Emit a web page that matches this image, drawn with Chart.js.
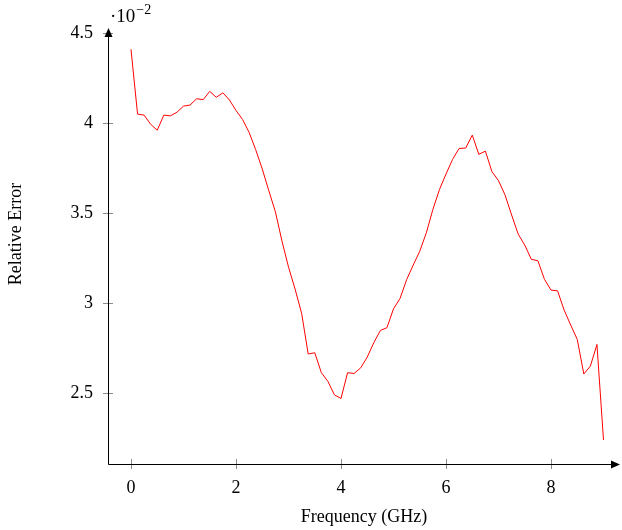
<!DOCTYPE html>
<html>
<head>
<meta charset="utf-8">
<script src="https://cdn.jsdelivr.net/npm/chart.js@4"></script>
<style>
  html, body { margin: 0; padding: 0; background: #fff; }
  canvas { display: block; }
</style>
</head>
<body>
<canvas id="chart" width="622" height="530"></canvas>
<script>
// frequency in GHz
const freq = [
  0, 0.125, 0.25, 0.375, 0.5, 0.625, 0.75, 0.875,
  1, 1.125, 1.25, 1.375, 1.5, 1.625, 1.75, 1.875,
  2, 2.125, 2.25, 2.375, 2.5, 2.625, 2.75, 2.875,
  3, 3.125, 3.25, 3.375, 3.5, 3.625, 3.75, 3.875,
  4, 4.125, 4.25, 4.375, 4.5, 4.625, 4.75, 4.875,
  5, 5.125, 5.25, 5.375, 5.5, 5.625, 5.75, 5.875,
  6, 6.125, 6.25, 6.375, 6.5, 6.625, 6.75, 6.875,
  7, 7.125, 7.25, 7.375, 7.5, 7.625, 7.75, 7.875,
  8, 8.125, 8.25, 8.375, 8.5, 8.625, 8.75, 8.875,
  9
];
// relative error, in units of 10^-2
const relErr = [
  4.41, 4.05, 4.044, 3.993, 3.96, 4.044, 4.04, 4.06,
  4.094, 4.10, 4.135, 4.13, 4.176, 4.143, 4.168, 4.128,
  4.07, 4.02, 3.948, 3.852, 3.745, 3.624, 3.507, 3.345,
  3.20, 3.078, 2.943, 2.717, 2.724, 2.614, 2.565, 2.49,
  2.47, 2.613, 2.609, 2.64, 2.70, 2.78, 2.848, 2.863,
  2.968, 3.026, 3.13, 3.211, 3.288, 3.39, 3.52, 3.63,
  3.717, 3.798, 3.859, 3.861, 3.933, 3.826, 3.844, 3.73,
  3.68, 3.60, 3.489, 3.383, 3.322, 3.243, 3.235, 3.132,
  3.072, 3.068, 2.961, 2.878, 2.798, 2.606, 2.65, 2.77,
  2.239
];
const xTicks = [0, 2, 4, 6, 8];
const xTickLabels = ['0', '2', '4', '6', '8'];
const yTicks = [2.5, 3, 3.5, 4, 4.5];
const yTickLabels = ['2.5', '3', '3.5', '4', '4.5'];

const serif = '"Liberation Serif", "DejaVu Serif", serif';
const labelFont = { family: serif, size: 18 };

// axis lines with arrows, gray tick marks, y title and the 10^-2 multiplier
const axesPlugin = {
  id: 'axes',
  afterDraw(chart) {
    const ctx = chart.ctx;
    const { left, top, right, bottom } = chart.chartArea;
    const x = chart.scales.x;
    const y = chart.scales.y;
    ctx.save();
    ctx.lineWidth = 1;
    ctx.strokeStyle = '#8c8c8c';
    yTicks.forEach(v => {
      const py = Math.round(y.getPixelForValue(v)) + 0.5;
      ctx.beginPath();
      ctx.moveTo(left - 5, py);
      ctx.lineTo(left + 5, py);
      ctx.stroke();
    });
    xTicks.forEach(v => {
      const px = Math.round(x.getPixelForValue(v)) + 0.5;
      ctx.beginPath();
      ctx.moveTo(px, bottom - 5);
      ctx.lineTo(px, bottom + 5);
      ctx.stroke();
    });

    ctx.strokeStyle = '#000';
    ctx.fillStyle = '#000';
    const ax = Math.round(left) + 0.5;
    const ay = Math.round(bottom) + 0.5;
    ctx.beginPath();
    ctx.moveTo(ax, ay);
    ctx.lineTo(ax, top + 6);
    ctx.moveTo(ax, ay);
    ctx.lineTo(right - 6, ay);
    ctx.stroke();
    // arrow heads
    ctx.beginPath();
    ctx.moveTo(ax, top);
    ctx.lineTo(ax - 4, top + 9);
    ctx.lineTo(ax + 4, top + 9);
    ctx.closePath();
    ctx.fill();
    ctx.beginPath();
    ctx.moveTo(right, ay);
    ctx.lineTo(right - 9, ay - 4);
    ctx.lineTo(right - 9, ay + 4);
    ctx.closePath();
    ctx.fill();

    // y title
    ctx.save();
    ctx.translate(16, 234);
    ctx.rotate(-Math.PI / 2);
    ctx.font = '18px ' + serif;
    ctx.textAlign = 'center';
    ctx.textBaseline = 'middle';
    ctx.fillText('Relative Error', 0, 0);
    ctx.restore();

    // multiplier
    ctx.textBaseline = 'alphabetic';
    ctx.textAlign = 'left';
    ctx.font = '19px ' + serif;
    ctx.fillText('\u00b710', left + 2, 22);
    const w = ctx.measureText('\u00b710').width;
    ctx.font = '14px ' + serif;
    ctx.fillText('\u22122', left + 3 + w, 14);
    ctx.restore();
  }
};

new Chart(document.getElementById('chart'), {
  type: 'line',
  data: {
    datasets: [{
      data: freq.map((f, i) => ({ x: f, y: relErr[i] })),
      borderColor: '#ff0000',
      borderWidth: 1,
      pointRadius: 0,
      tension: 0,
      fill: false
    }]
  },
  options: {
    responsive: false,
    animation: false,
    layout: { padding: { left: 0, top: 28, right: 2, bottom: 0 } },
    plugins: {
      legend: { display: false },
      tooltip: { enabled: false }
    },
    scales: {
      x: {
        type: 'linear',
        min: -0.438,
        max: 9.314,
        afterBuildTicks: s => { s.ticks = xTicks.map(v => ({ value: v })); },
        afterFit: s => { s.height = 66; },
        grid: { display: false, drawTicks: false },
        border: { display: false },
        ticks: {
          font: labelFont,
          color: '#000',
          padding: 13,
          maxRotation: 0,
          autoSkip: false,
          callback: (v, i) => xTickLabels[i]
        },
        title: {
          display: true,
          text: 'Frequency (GHz)',
          font: labelFont,
          color: '#000',
          padding: { top: 0, bottom: 2 }
        }
      },
      y: {
        type: 'linear',
        min: 2.106,
        max: 4.528,
        afterBuildTicks: s => { s.ticks = yTicks.map(v => ({ value: v })); },
        afterFit: s => { s.width = 108; },
        grid: { display: false, drawTicks: false },
        border: { display: false },
        ticks: {
          font: labelFont,
          color: '#000',
          padding: 15,
          autoSkip: false,
          callback: (v, i) => yTickLabels[i]
        }
      }
    }
  },
  plugins: [axesPlugin]
});
</script>
</body>
</html>
